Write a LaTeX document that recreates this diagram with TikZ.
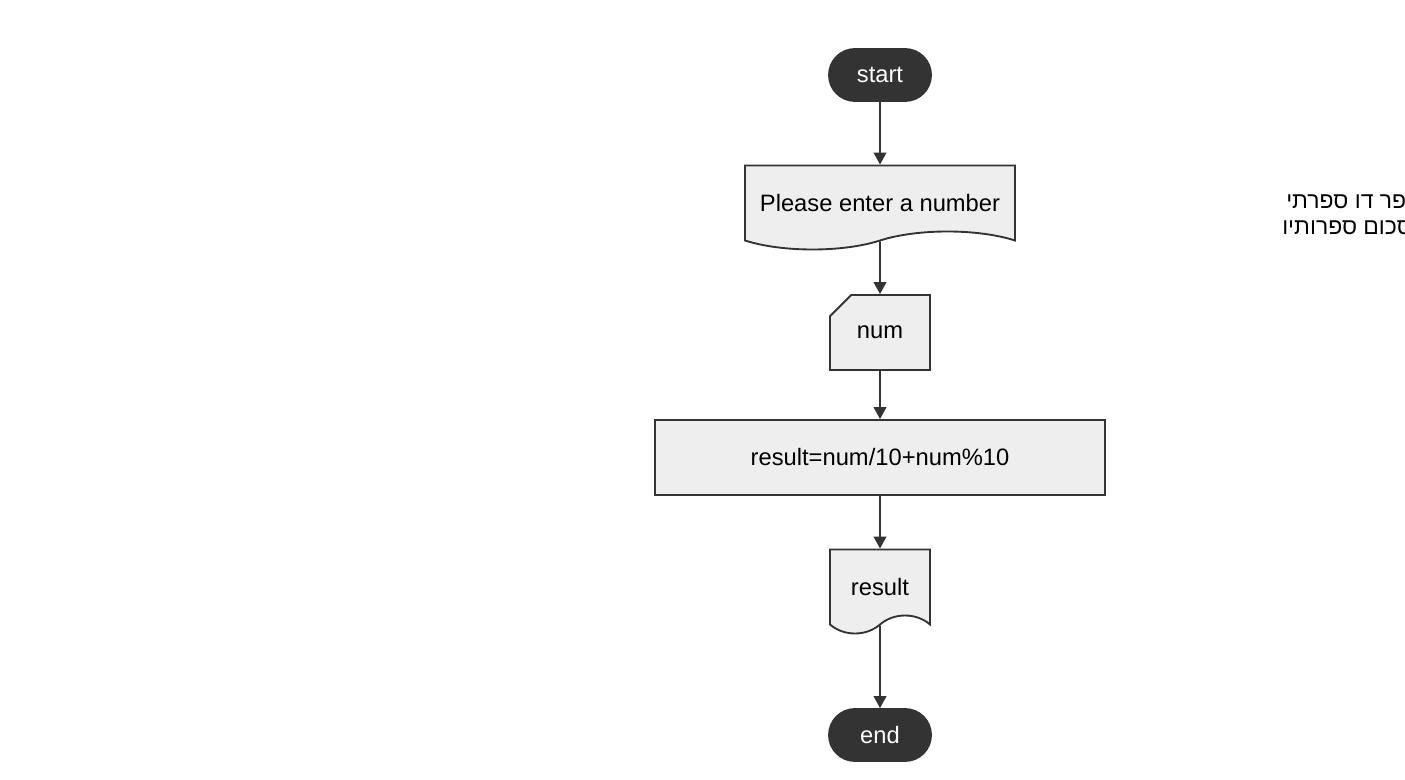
\documentclass[tikz,border=0pt]{standalone}
\usepackage{fontspec}
\setmainfont{Liberation Sans}
\newfontfamily\hebfont[Script=Hebrew]{Liberation Sans}
\TeXXeTstate=1
\usetikzlibrary{positioning, arrows.meta, shapes.misc, shapes.symbols}
\definecolor{boxfill}{HTML}{EEEEEE}
\definecolor{linegray}{HTML}{333333}
\tikzset{
    base/.style={draw=linegray, line width=1.4pt, inner sep=0pt,
        font=\fontsize{17.8}{21}\selectfont},
    terminal/.style={base, fill=linegray, text=white, minimum width=76.5pt,
        minimum height=39pt, rounded corners=19.5pt},
    process/.style={base, fill=boxfill, minimum width=337.5pt, minimum height=56.25pt},
    card/.style={base, fill=boxfill, chamfered rectangle,
        chamfered rectangle corners=north west, chamfered rectangle xsep=15pt,
        chamfered rectangle ysep=11pt, minimum width=75pt, minimum height=56.25pt},
    document/.style={base, fill=boxfill, tape, tape bend top=none,
        tape bend bottom=in and out, tape bend height=13.5pt, minimum height=63pt,
        text height=22.5pt, text depth=3.5pt},
    flow/.style={draw=linegray, line width=1.4pt, -{Triangle[length=9pt,width=9.5pt]}},
    note/.style={inner sep=0pt, font=\hebfont\fontsize{17.2}{21}\selectfont}
}

\begin{document}
\begin{tikzpicture}[x=0.75pt, y=-0.75pt]

    % Frame of the page
    \useasboundingbox (0,0) rectangle (1405,780);

    % Flowchart, top to bottom
    \node[terminal] (start) at (880,75) {start};
    \node[document, minimum width=202.5pt] (prompt) at (880,198.5) {Please enter a number};
    \node[card] (num) at (880,332.5) {num};
    \node[process] (calc) at (880,457.5) {result=num/10+num\%10};
    \node[document, minimum width=75pt] (result) at (880,582.5) {result};
    \node[terminal] (end) at (880,735) {end};

    % Connectors
    \draw[flow] (start) -- (prompt);
    \draw[flow] (prompt) -- (num);
    \draw[flow] (num) -- (calc);
    \draw[flow] (calc) -- (result);
    \draw[flow] (result) -- (end);

    % Task text, cut by the right edge
    \node[note, anchor=west] (note1) at (1286,201) {\beginR קלוט מספר דו ספרתי\endR};
    \node[note, anchor=west] (note2) at (1282,228) {\beginR והדפס את סכום ספרותיו\endR};

\end{tikzpicture}
\end{document}
